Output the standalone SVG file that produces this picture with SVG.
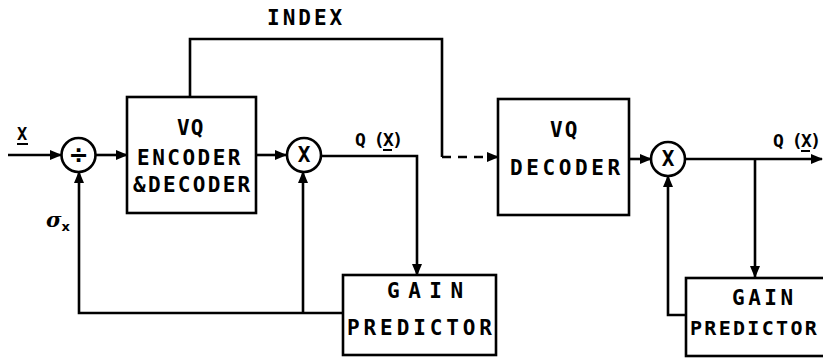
<svg xmlns="http://www.w3.org/2000/svg" width="823" height="358" viewBox="0 0 823 358">
<defs>
<marker id="ah" markerWidth="12" markerHeight="10" refX="11" refY="5" orient="auto" markerUnits="userSpaceOnUse">
<path d="M0,0 L12,5 L0,10 Z" fill="#000"/>
</marker>
<style>
.box{fill:#fff;stroke:#000;stroke-width:2.6}
.circ{fill:#fff;stroke:#000;stroke-width:2.6}
.ln{fill:none;stroke:#000;stroke-width:2.6}
.dash{fill:none;stroke:#000;stroke-width:2.6;stroke-dasharray:9 7}
.t{font-family:"DejaVu Sans Mono","Liberation Mono",monospace;font-size:21px;font-weight:bold;fill:#000}
.q{font-family:"DejaVu Sans Mono","Liberation Mono",monospace;font-size:18px;font-weight:bold;fill:#000;letter-spacing:-1.5px}
.op{font-family:"DejaVu Sans","Liberation Sans",sans-serif;font-size:24px;font-weight:bold;fill:#000;text-anchor:middle}
</style>
</defs>
<rect width="823" height="358" fill="#fff"/>
<g id="connectors">
<path class="ln" d="M8,155 L61,155" marker-end="url(#ah)"/>
<path class="ln" d="M96,155 L127,155" marker-end="url(#ah)"/>
<path class="ln" d="M256,155 L286,155" marker-end="url(#ah)"/>
<path class="ln" d="M321,156 L417,156 L417,275" marker-end="url(#ah)"/>
<path class="ln" d="M190,97 L190,39 L442,39 L442,157"/>
<path class="dash" d="M442,157 L498,157" marker-end="url(#ah)"/>
<path class="ln" d="M343,313 L79,313 L79,172" marker-end="url(#ah)"/>
<path class="ln" d="M303,313 L303,172" marker-end="url(#ah)"/>
<path class="ln" d="M629,159 L651,159" marker-end="url(#ah)"/>
<path class="ln" d="M685,159 L822,159" marker-end="url(#ah)"/>
<path class="ln" d="M755,159 L755,277" marker-end="url(#ah)"/>
<path class="ln" d="M686,315 L668,315 L668,176" marker-end="url(#ah)"/>
</g>
<g id="labels">
<text class="t" x="267" y="25" style="letter-spacing:3px">INDEX</text>
<text class="t" x="17" y="140" style="font-size:17px">X</text>
<line x1="17" y1="144" x2="28" y2="144" stroke="#000" stroke-width="2"/>
<text class="q" x="355" y="146">Q (X)</text>
<line x1="383" y1="150" x2="392" y2="150" stroke="#000" stroke-width="2"/>
<text class="q" x="773" y="147">Q (X)</text>
<line x1="801" y1="151" x2="810" y2="151" stroke="#000" stroke-width="2"/>
<text x="46" y="227" style="font-family:'DejaVu Serif','Liberation Serif',serif;font-size:21px;font-style:italic;font-weight:bold">σ<tspan dy="4" style="font-family:'DejaVu Sans','Liberation Sans',sans-serif;font-size:13px;font-style:normal">x</tspan></text>
</g>
<g id="divider">
<circle class="circ" cx="78.5" cy="155" r="17"/>
<text class="op" x="78.5" y="163">÷</text>
</g>
<g id="vq-encoder">
<rect class="box" x="127" y="97" width="129" height="116"/>
<text class="t" x="177" y="135" style="letter-spacing:1px">VQ</text>
<text class="t" x="137" y="165" style="letter-spacing:2.5px">ENCODER</text>
<text class="t" x="133" y="192" style="letter-spacing:2.3px">&amp;DECODER</text>
</g>
<g id="mult1">
<circle class="circ" cx="304" cy="155" r="17"/>
<text class="t" x="304" y="162" style="text-anchor:middle">X</text>
</g>
<g id="gain-predictor-1">
<rect class="box" x="343" y="275" width="153" height="80"/>
<text class="t" x="387" y="298" style="letter-spacing:8.5px">GAIN</text>
<text class="t" x="347" y="335" style="letter-spacing:3.9px">PREDICTOR</text>
</g>
<g id="vq-decoder">
<rect class="box" x="498" y="99" width="131" height="116"/>
<text class="t" x="550" y="137" style="letter-spacing:2px">VQ</text>
<text class="t" x="510" y="175" style="letter-spacing:3.6px">DECODER</text>
</g>
<g id="mult2">
<circle class="circ" cx="668" cy="159" r="17"/>
<text class="t" x="668" y="166" style="text-anchor:middle">X</text>
</g>
<g id="gain-predictor-2">
<rect class="box" x="686" y="278" width="150" height="78"/>
<text class="t" x="732" y="305" style="letter-spacing:3.5px">GAIN</text>
<text class="t" x="690" y="335" style="font-size:20px;letter-spacing:2.3px">PREDICTOR</text>
</g>
</svg>
